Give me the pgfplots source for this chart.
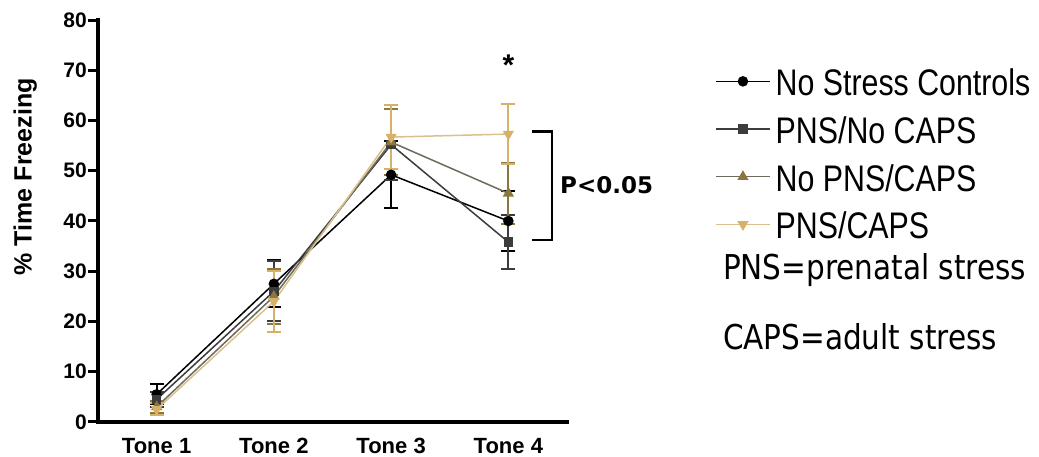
\documentclass[border=0pt]{standalone}
\usepackage{fontspec}
\setmainfont{Liberation Sans}
\newfontfamily\dejavu{DejaVu Sans}
\usepackage{graphicx}
\usepackage{pgfplots}
\pgfplotsset{compat=1.18}

\definecolor{cPNS}{HTML}{3C3C3C}
\definecolor{cB}{HTML}{8C7640}
\definecolor{cBline}{HTML}{6E6A5C}
\definecolor{cT}{HTML}{D8B168}
\definecolor{cTline}{HTML}{D9C08C}

\begin{document}
\begin{tikzpicture}[x=1pt,y=1pt]
\useasboundingbox (0,0) rectangle (1039,457);
\begin{axis}[
  at={(98pt,35pt)}, anchor=south west,
  scale only axis, width=469pt, height=402pt,
  xmin=0.5, xmax=4.5, ymin=0, ymax=80,
  clip=false,
  axis x line*=bottom, axis y line*=left,
  axis line style={line width=4pt, -, line cap=rect},
  xtick={1,2,3,4}, xticklabels={Tone 1,Tone 2,Tone 3,Tone 4},
  x tick style={draw=none},
  ytick={0,10,...,80},
  y tick style={line width=3pt, black},
  tick align=outside, major tick length=10pt,
  /pgf/number format/assume math mode=true,
  yticklabel style={font=\fontsize{21}{23}\selectfont\bfseries, inner sep=1pt},
  xticklabel style={font=\fontsize{22}{26}\selectfont\bfseries, inner sep=0pt, yshift=-6pt},
  ylabel={\% Time Freezing},
  every axis y label/.style={at={(axis description cs:-0.155,0.61)}, rotate=90, anchor=center, font=\fontsize{25}{30}\selectfont\bfseries},
  legend image code/.code={\draw[yshift=5pt,mark repeat=2,mark phase=2,#1] plot coordinates {(0pt,0pt) (27pt,0pt) (54pt,0pt)};},
  legend style={at={(1.3156,0.879)}, anchor=north west, draw=none, fill=none,
    font=\fontsize{37}{44}\selectfont, inner sep=0pt, row sep=12.7pt, column sep=5pt,
    nodes={inner sep=0pt, text height=27pt, text depth=8pt}},
  legend cell align=left,
]
\addplot[black, line width=1.5pt, mark=*, mark size=4.5pt, mark options={solid, fill=black},
  error bars/.cd, y dir=both, y explicit,
  error bar style={line width=2pt, black},
  error mark options={rotate=90, mark size=7pt, line width=2pt, black}]
  coordinates {(1,5.5) +- (0,2.0) (2,27.5) +- (0,4.7) (3,49.2) +- (0,6.7) (4,40.0) +- (0,6.0)};
\addlegendentry{\scalebox{0.82}[1]{No Stress Controls}}
\addplot[cPNS, line width=1.5pt, mark=square*, mark size=4pt, mark options={solid, fill=cPNS},
  error bars/.cd, y dir=both, y explicit,
  error bar style={line width=2pt, cPNS},
  error mark options={rotate=90, mark size=7pt, line width=2pt, cPNS}]
  coordinates {(1,4.5) +- (0,1.5) (2,26.0) +- (0,6.0) (3,55.2) +- (0,7.0) (4,35.8) +- (0,5.4)};
\addlegendentry{\scalebox{0.82}[1]{PNS/No CAPS}}
\addplot[cBline, line width=1.5pt, mark=triangle*, mark size=5pt, mark options={solid, fill=cB, draw=cB},
  error bars/.cd, y dir=both, y explicit,
  error bar style={line width=2pt, cB},
  error mark options={rotate=90, mark size=7pt, line width=2pt, cB}]
  coordinates {(1,3.0) +- (0,1.2) (2,25.0) +- (0,5.5) (3,55.7) +- (0,6.6) (4,45.5) +- (0,6.0)};
\addlegendentry{\scalebox{0.82}[1]{No PNS/CAPS}}
\addplot[cTline, line width=1.5pt, mark=triangle*, mark size=5pt, mark options={solid, rotate=180, fill=cT, draw=cT},
  error bars/.cd, y dir=both, y explicit,
  error bar style={line width=2pt, cT},
  error mark options={rotate=90, mark size=7pt, line width=2pt, cT}]
  coordinates {(1,2.5) +- (0,1.2) (2,24.0) +- (0,6.0) (3,56.7) +- (0,6.3) (4,57.3) +- (0,6.0)};
\addlegendentry{\scalebox{0.82}[1]{PNS/CAPS}}
% annotations
\draw[line width=2.7pt, black] (axis cs:4.201,57.8) -- (axis cs:4.372,57.8) -- (axis cs:4.372,36.2) -- (axis cs:4.201,36.2);
\node[anchor=west, inner sep=0pt, font=\dejavu\bfseries\fontsize{23}{27}\selectfont] at (axis cs:4.44,47.2) {P<0.05};
\node[inner sep=0pt, font=\fontsize{30}{34}\selectfont\bfseries] at (axis cs:4,71) {*};
\node[anchor=west, inner sep=0pt, font=\dejavu\fontsize{29.5}{34}\selectfont] at (axis cs:5.83,30.25) {\scalebox{1}[1.16]{PNS=prenatal stress}};
\node[anchor=west, inner sep=0pt, font=\dejavu\fontsize{29.5}{34}\selectfont] at (axis cs:5.83,16.9) {\scalebox{1}[1.16]{CAPS=adult stress}};
\end{axis}
\end{tikzpicture}
\end{document}
